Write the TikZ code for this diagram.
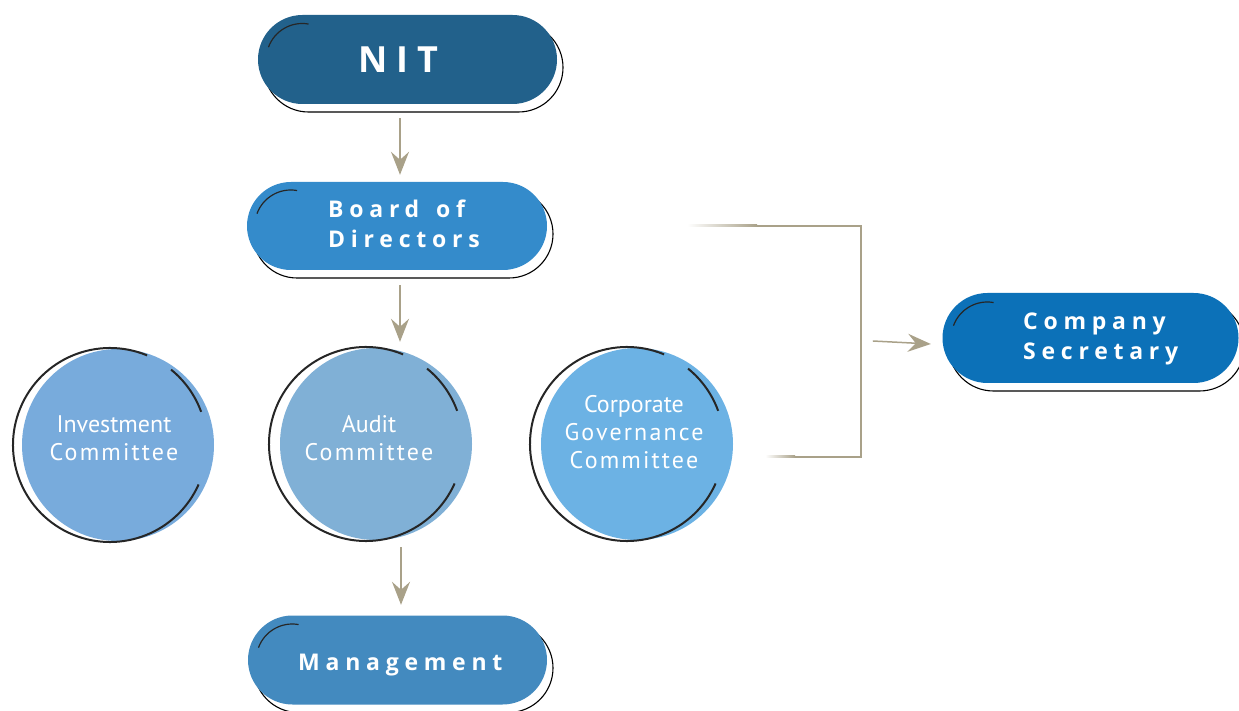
\documentclass[tikz,border=0pt]{standalone}
\usepackage{fontspec}
\usetikzlibrary{arrows.meta,shapes.misc,shadows,calc}

\newfontfamily\pillfont[LetterSpace=25]{Open Sans}
\newfontfamily\discfont{PT Sans}
\newfontfamily\discfontwide[LetterSpace=9]{PT Sans}

\definecolor{nitblue}{HTML}{22618B}
\definecolor{boardblue}{HTML}{348BCB}
\definecolor{secblue}{HTML}{0C71B8}
\definecolor{mgmtblue}{HTML}{438ABF}
\definecolor{invblue}{HTML}{78ABDC}
\definecolor{auditblue}{HTML}{80B0D6}
\definecolor{cgblue}{HTML}{6CB2E4}
\definecolor{taupe}{HTML}{A9A189}

\tikzset{
  pill/.style={rounded rectangle, minimum width=299pt, minimum height=89pt,
    inner sep=0pt, draw=none,
    general shadow={shadow xshift=6pt, shadow yshift=-8pt,
      fill=white, draw=black, line width=1.1pt}},
  disc/.style={circle, minimum size=192pt, inner sep=0pt, draw=none},
  pilltext/.style={text=white, inner sep=0pt, align=left,
    font={\pillfont\bfseries\fontsize{23}{30}\selectfont}},
  bigtext/.style={text=white, inner sep=0pt,
    font={\pillfont\bfseries\fontsize{36}{40}\selectfont}},
  disctext/.style={text=white, inner sep=0pt, align=center,
    font={\discfont\fontsize{24}{28}\selectfont}},
  flow/.style={draw=taupe, line width=1.5pt,
    -{Stealth[length=23pt,width=18pt,inset=8pt]}},
  bracketline/.style={draw=taupe, line width=2pt},
  ring/.style={draw=black!85, line width=2pt},
  nick/.style={draw=black!85, line width=1.2pt},
}

\begin{document}
\begin{tikzpicture}[x=1pt,y=1pt]
\useasboundingbox (0,0) rectangle (1239,710);

% rounded boxes
\node[pill, fill=nitblue]   (nit)  at (407.5,650.5) {};
\node[pill, fill=boardblue, minimum width=300pt, minimum height=88pt] (board) at (397,484) {};
\node[pill, fill=secblue,   minimum width=296pt, minimum height=90pt] (sec)   at (1090.5,372) {};
\node[pill, fill=mgmtblue]  (mgmt) at (397.5,50) {};

% small inner arcs on the left caps
\foreach \p/\r in {nit/44.5, board/44, sec/45, mgmt/44.5}{
  \draw[nick] ($(\p.west)+(\r,0)+(160:36)$) arc[start angle=160, end angle=80, radius=36];
}

% box labels
\node[bigtext, anchor=west]  (nit-label)   at (358,650) {NIT};
\node[pilltext, anchor=west] (board-label) at (328,485.75) {Board\hspace{5pt} of\\Directors};
\node[pilltext, anchor=west] (sec-label)   at (1023,370.6) {Company\\Secretary};
\node[pilltext, anchor=base west] (mgmt-label) at (298,40) {Management};

% committee discs
\node[disc, fill=invblue]   (inv)   at (118,265) {};
\node[disc, fill=auditblue] (audit) at (376,266) {};
\node[disc, fill=cgblue]    (cg)    at (637,266) {};

\foreach \c/\dx in {inv/-8, audit/-10, cg/-10}{
  \draw[ring] ($(\c.center)+(\dx,0)+(67.5:97)$) arc[start angle=67.5, end angle=336, radius=97];
  \draw[ring] ($(\c.center)+(\dx,0)+(20:97)$) arc[start angle=20, end angle=51, radius=97];
}

\node[disctext] (inv-label)   at (114,272) {Investment\\{\discfontwide Committee}};
\node[disctext] (audit-label) at (369,272) {Audit\\{\discfontwide Committee}};
\node[disctext] (cg-label)    at (634,277.75) {Corporate\\{\discfontwide Governance}\\{\discfontwide Committee}};

% reporting arrows
\draw[flow] ($(nit.south)+(-7.5,-14)$) -- ($(board.north)+(3,7)$);
\draw[flow] ($(board.south)+(3,-15)$) -- ($(audit.north)+(24,6)$);
\draw[flow] ($(audit.south)+(25,-7)$) -- ($(mgmt.north)+(3.5,10.5)$);

% bracket towards the company secretary
\coordinate (brtop) at ($(board.east)+(140,0)$);
\coordinate (brbot) at ($(cg.east)+(32,-13)$);
\draw[bracketline] (brtop) -- ++(174,0) |- (brbot);
\shade[left color=white, right color=taupe] ($(brtop)+(0,-1)$) rectangle ($(brtop)+(70,1)$);
\shade[left color=white, right color=taupe] ($(brbot)+(0,-1)$) rectangle ($(brbot)+(30,1)$);
\draw[flow] ($(sec.west)+(-69.5,-3)$) -- ($(sec.west)+(-11.5,-6)$);

\end{tikzpicture}
\end{document}
